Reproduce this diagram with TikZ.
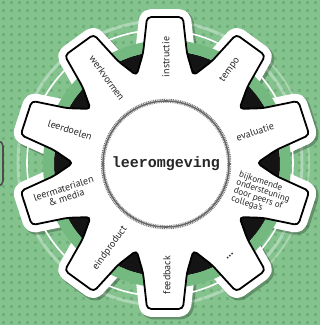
\documentclass[tikz,border=0pt]{standalone}
\usepackage{fontspec}
\setmainfont{PT Sans}
\newfontfamily\gearmono{Liberation Mono}
\definecolor{bg}{RGB}{132,194,142}
\definecolor{bgdot}{RGB}{112,177,123}
\definecolor{band}{RGB}{116,186,128}
\tikzset{
  lbl/.style={font=\fontsize{10}{9.6}\selectfont, text=black!85, inner sep=0pt},
  gearline/.style={draw=black, line width=1.8pt, rounded corners=4pt, line join=round},
}
\newcommand{\gearshape}{(72:92) \foreach \k in {0,...,9}{ -- ({90+36*\k-11.3}:112) -- ({90+36*\k-7.0}:147) -- ({90+36*\k+7.0}:147) -- ({90+36*\k+11.3}:112) -- ({90+36*\k+18}:92) } -- cycle}
\begin{document}
\begin{tikzpicture}[x=1pt,y=1pt]
\useasboundingbox (0,0) rectangle (320,325);
\clip (0,0) rectangle (320,325);
% background
\fill[bg] (0,0) rectangle (320,325);
\foreach \i in {0,...,40}{\foreach \j in {0,...,41}{\fill[bgdot] (\i*8+2,\j*8+1) rectangle ++(3,3);}}
% cut-off shape at the left edge
\draw[black!70, line width=1.6pt, rounded corners=5pt, fill=bg] (-12,139) rectangle (3,184);
% faint outer rings
\draw[white, opacity=0.35, line width=3pt] (160,162) circle (142);
\draw[white, opacity=0.3, line width=2pt] (160,162) ++(-60:149) arc (-60:60:149);
\begin{scope}[shift={(165,162)}]
  % shadow and sticker edge
  \draw[black, opacity=0.25, line width=17pt, line join=round, rounded corners=4pt, shift={(2,-2)}] \gearshape;
  \fill[white, rounded corners=4pt] \gearshape;
  \draw[white, line width=16pt, line join=round, rounded corners=4pt] \gearshape;
\end{scope}
% rings behind the gear
\fill[black!92] (167,161) circle (113);
\draw[band, line width=11pt] (167,161) circle (118.5);
\draw[white, line width=1.6pt] (160,162) circle (133);
\begin{scope}[shift={(165,162)}]
  \fill[white, rounded corners=4pt] \gearshape;
  \draw[gearline] \gearshape;
  % inner circle
  \fill[white] (1,-1) circle (63);
  \draw[black!60, line width=1.6pt] (1,-1) circle (63);
  \draw[black!55, line width=1.3pt, dash pattern=on 0.9pt off 0.9pt] (1,-1) circle (64.6);
  \draw[black!45, line width=1pt, dash pattern=on 0.9pt off 0.9pt] (1,-1) circle (61.6);
  \node[font=\gearmono\bfseries\fontsize{15}{15}\selectfont, text=black!85] (center) at (1,-1) {leeromgeving};
  % tooth labels
  \node[lbl, rotate=90] (instr) at (1,106) {instructie};
  \node[lbl, rotate=54] (tempo) at (65,93) {tempo};
  \node[lbl, rotate=18] (eval) at (90,31) {evaluatie};
  \node[lbl, rotate=-18, align=left, font=\fontsize{9}{8.4}\selectfont] (bijk) at (-18.5:102) {bijkomende\\ondersteuning\\door peers of\\collega's};
  \node[lbl, rotate=40, font=\bfseries\fontsize{11}{11}\selectfont] (dots) at (65,-93) {...};
  \node[lbl, rotate=90] (feed) at (2,-112) {feedback};
  \node[lbl, rotate=54] (eind) at (-55,-85) {eindproduct};
  \node[lbl, rotate=18, align=center] (mat) at (-100,-30) {leermaterialen\\\& media};
  \node[lbl, rotate=-18] (doel) at (-95,33) {leerdoelen};
  \node[lbl, rotate=-54] (werk) at (-58,85) {werkvormen};
\end{scope}
\end{tikzpicture}
\end{document}
